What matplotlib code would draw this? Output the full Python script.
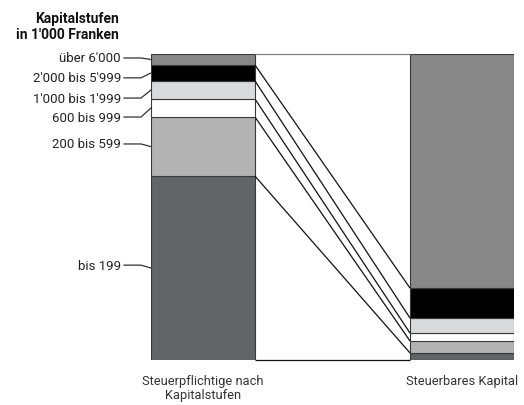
import matplotlib.pyplot as plt
import numpy as np

plt.rcParams['font.family'] = ['Roboto', 'DejaVu Sans']

# Kapitalstufen (von unten nach oben), Anteile in %
stufen = ['bis 199', '200 bis 599', '600 bis 999', "1'000 bis 1'999",
          "2'000 bis 5'999", "über 6'000"]
steuerpflichtige = [60.1, 19.3, 5.9, 5.9, 5.2, 3.6]
steuerbares_kapital = [2.3, 3.9, 2.6, 4.9, 9.8, 76.5]
balken = ['Steuerpflichtige nach\nKapitalstufen', 'Steuerbares Kapital']

farben = ['#636466', '#b3b3b3', '#ffffff', '#d9dadb', '#000000', '#878787']

# Layout: Beschriftungshöhe links (in %)
label_y = [31.0, 70.6, 79.4, 85.6, 92.2, 98.7]

fig = plt.figure(figsize=(5.24, 4.06), dpi=100)
ax = fig.add_axes([151 / 524, 45 / 406, 363 / 524, 306 / 406])

w = 0.4015
x_pos = [0, 1]

for i, werte in enumerate([steuerpflichtige, steuerbares_kapital]):
    unten = 0
    for wert, farbe in zip(werte, farben):
        ax.bar(x_pos[i], wert, width=w, bottom=unten, color=farbe,
               edgecolor='#3a3a3a', linewidth=0.8)
        unten += wert

# Verbindungslinien zwischen den Balken
cum_l = np.concatenate([[0], np.cumsum(steuerpflichtige)])
cum_r = np.concatenate([[0], np.cumsum(steuerbares_kapital)])
for k, (yl, yr) in enumerate(zip(cum_l, cum_r)):
    farbe = '#808080' if k == len(cum_l) - 1 else '#111111'
    ax.plot([w / 2, 1 - w / 2], [yl, yr], color=farbe, lw=0.9,
            clip_on=False, solid_capstyle='butt')

# Beschriftungen links mit Führungslinien
px = (1 + w) / 363
x_text = -w / 2 - 30 * px
x_knick = -w / 2 - 10 * px
unten = 0
for name, wert, ly in zip(stufen, steuerpflichtige, label_y):
    mitte = unten + wert / 2
    unten += wert
    ax.plot([-w / 2 - 27 * px, x_knick, -w / 2], [ly, ly, mitte],
            color='#333333', lw=0.9, clip_on=False)
    ax.text(x_text, ly, name, ha='right', va='center', fontsize=9.5,
            color='#222222')

ax.text(-w / 2 - 32 * px, 114.0, "Kapitalstufen\nin 1'000 Franken",
        ha='right', va='top', fontsize=10, fontweight='bold',
        linespacing=1.2, color='#111111')

for xp, name in zip(x_pos, balken):
    ax.text(xp, -4.6, name, ha='center', va='top', fontsize=9.3,
            color='#333333', linespacing=1.1)

ax.set_xlim(-w / 2, 1 + w / 2)
ax.set_ylim(0, 100)
ax.axis('off')

fig.savefig('out.png', dpi=100)
